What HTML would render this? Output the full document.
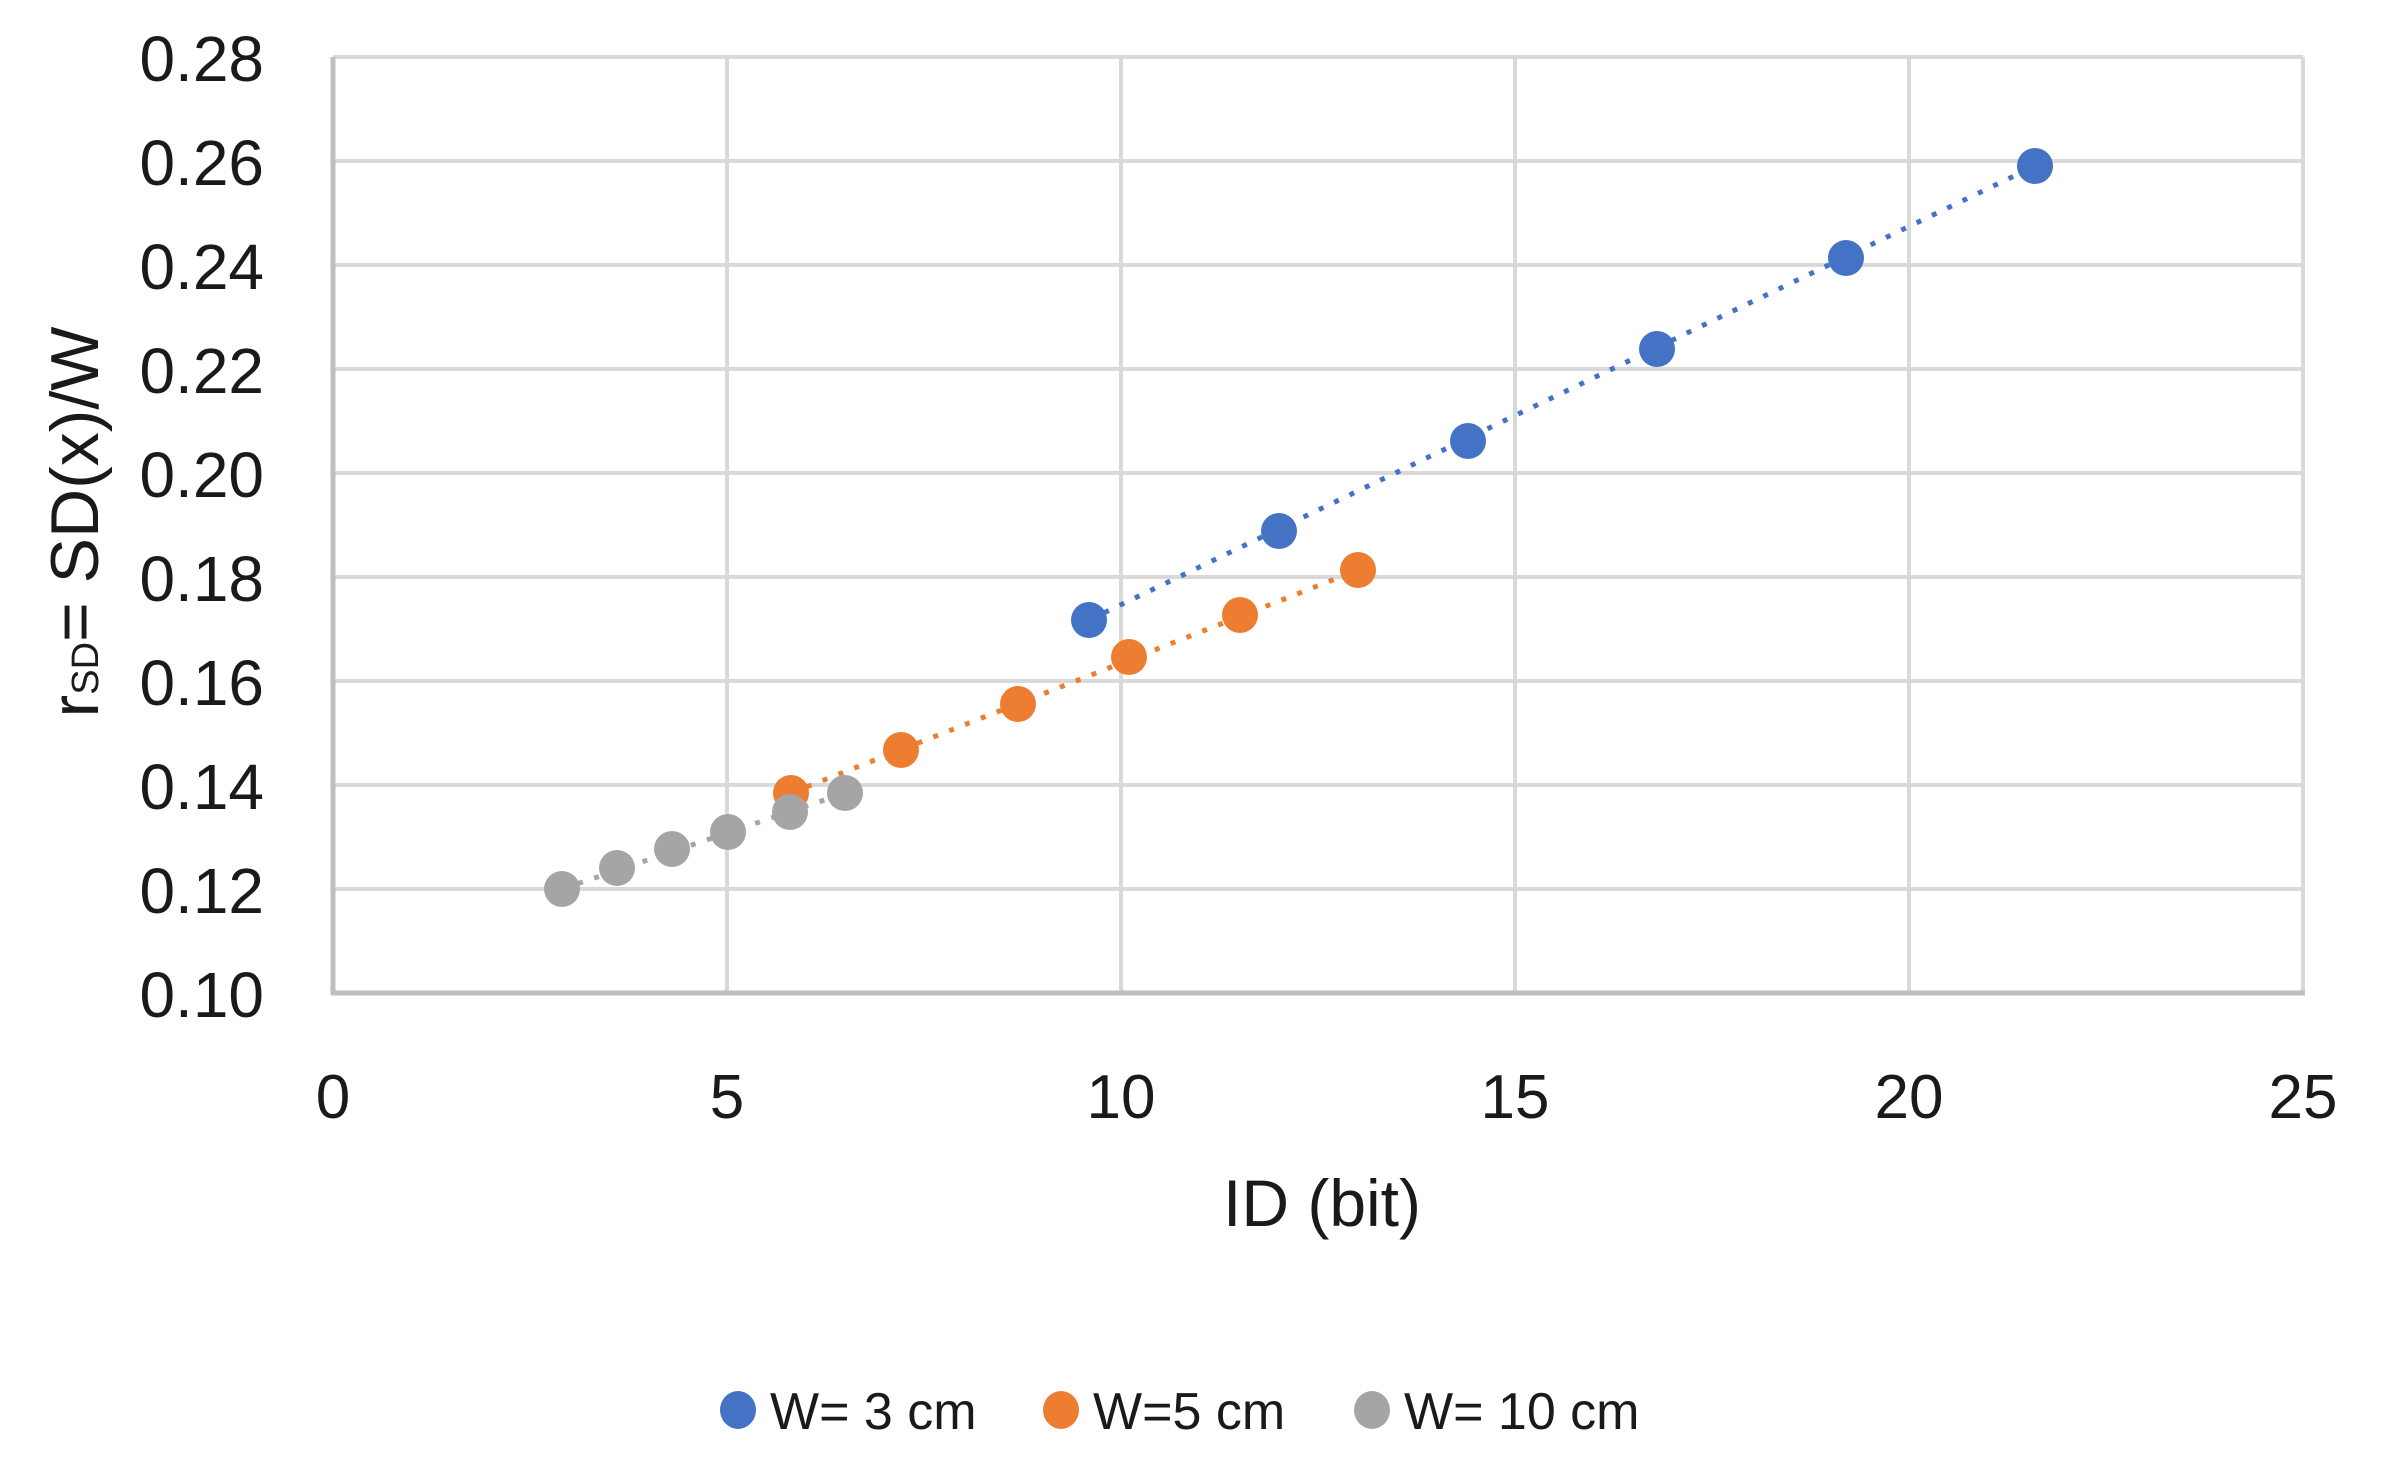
<!DOCTYPE html>
<html><head><meta charset="utf-8"><style>html,body{margin:0;padding:0;background:#fff}</style></head>
<body>
<svg width="2391" height="1476" viewBox="0 0 2391 1476" xmlns="http://www.w3.org/2000/svg" font-family="'Liberation Sans', sans-serif">
<rect width="2391" height="1476" fill="#fff"/>
<g stroke="#d9d9d9" stroke-width="4">
<line x1="333" y1="57" x2="2303" y2="57"/>
<line x1="333" y1="161" x2="2303" y2="161"/>
<line x1="333" y1="265" x2="2303" y2="265"/>
<line x1="333" y1="369" x2="2303" y2="369"/>
<line x1="333" y1="473" x2="2303" y2="473"/>
<line x1="333" y1="577" x2="2303" y2="577"/>
<line x1="333" y1="681" x2="2303" y2="681"/>
<line x1="333" y1="785" x2="2303" y2="785"/>
<line x1="333" y1="889" x2="2303" y2="889"/>
<line x1="727" y1="57" x2="727" y2="993"/>
<line x1="1121" y1="57" x2="1121" y2="993"/>
<line x1="1515" y1="57" x2="1515" y2="993"/>
<line x1="1909" y1="57" x2="1909" y2="993"/>
<line x1="2303" y1="57" x2="2303" y2="993"/>
</g>
<g stroke="#bfbfbf" stroke-width="5">
<line x1="333" y1="57" x2="333" y2="995"/>
<line x1="331" y1="993" x2="2305" y2="993"/>
</g>
<g font-size="64" fill="#1a1a1a" text-anchor="end">
<text x="264" y="81">0.28</text>
<text x="264" y="185">0.26</text>
<text x="264" y="289">0.24</text>
<text x="264" y="393">0.22</text>
<text x="264" y="497">0.20</text>
<text x="264" y="601">0.18</text>
<text x="264" y="705">0.16</text>
<text x="264" y="809">0.14</text>
<text x="264" y="913">0.12</text>
<text x="264" y="1017">0.10</text>
</g>
<g font-size="62" fill="#1a1a1a" text-anchor="middle">
<text x="333" y="1118">0</text>
<text x="727" y="1118">5</text>
<text x="1121" y="1118">10</text>
<text x="1515" y="1118">15</text>
<text x="1909" y="1118">20</text>
<text x="2303" y="1118">25</text>
<text x="1322" y="1226" font-size="66">ID (bit)</text>
</g>
<text transform="translate(98,522) rotate(-90)" text-anchor="middle" font-size="68" fill="#1a1a1a">r<tspan font-size="38">SD</tspan>= SD(x)/W</text>
<g stroke-width="5" stroke-dasharray="5 12" fill="none">
<line x1="1089" y1="620" x2="2035" y2="166" stroke="#4472c4"/>
<line x1="791" y1="793" x2="1358" y2="570" stroke="#ed7d31"/>
<line x1="562" y1="889" x2="845" y2="793" stroke="#a5a5a5"/>
</g>
<g fill="#4472c4">
<circle cx="1089" cy="620" r="18"/>
<circle cx="1279" cy="531" r="18"/>
<circle cx="1468" cy="441" r="18"/>
<circle cx="1657" cy="349" r="18"/>
<circle cx="1846" cy="258" r="18"/>
<circle cx="2035" cy="166" r="18"/>
</g>
<g fill="#ed7d31">
<circle cx="791" cy="793" r="18"/>
<circle cx="901" cy="750" r="18"/>
<circle cx="1018" cy="704" r="18"/>
<circle cx="1129" cy="657" r="18"/>
<circle cx="1240" cy="615" r="18"/>
<circle cx="1358" cy="570" r="18"/>
</g>
<g fill="#a5a5a5">
<circle cx="562" cy="889" r="18"/>
<circle cx="617" cy="868" r="18"/>
<circle cx="672" cy="849" r="18"/>
<circle cx="728" cy="832" r="18"/>
<circle cx="790" cy="812" r="18"/>
<circle cx="845" cy="793" r="18"/>
</g>
<g font-size="52" fill="#1a1a1a">
<ellipse cx="738" cy="1410" rx="18" ry="19" fill="#4472c4"/>
<text x="770" y="1429">W= 3 cm</text>
<ellipse cx="1061" cy="1410" rx="18" ry="19" fill="#ed7d31"/>
<text x="1093" y="1429">W=5 cm</text>
<ellipse cx="1372" cy="1410" rx="18" ry="19" fill="#a5a5a5"/>
<text x="1404" y="1429">W= 10 cm</text>
</g>
</svg>
</body></html>
